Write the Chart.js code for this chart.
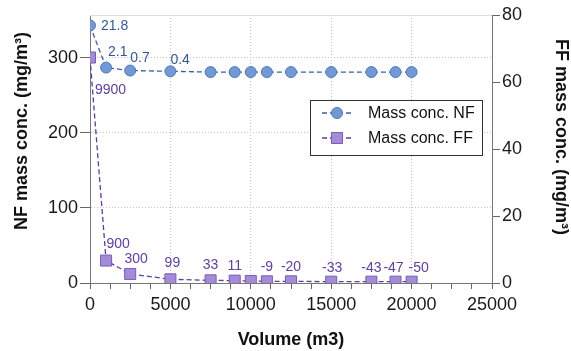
<!DOCTYPE html>
<html><head><meta charset="utf-8">
<script src="https://cdn.jsdelivr.net/npm/chart.js@4.4.1/dist/chart.umd.min.js"></script>
<style>html,body{margin:0;padding:0;background:#fff}#wrap{width:571px;height:351px;position:relative}</style>
</head><body><div id="wrap"><canvas id="c"></canvas></div>
<script>
// ---- data ----
const volumes   = [0, 1000, 2500, 5000, 7500, 9000, 10000, 11000, 12500, 15000, 17500, 19000, 20000];
const nfValues  = [343, 287, 283, 282, 281, 281, 281, 281, 281, 281, 281, 281, 281];
const ffValues  = [67.3, 6.7, 2.7, 1.1, 0.8, 0.7, 0.6, 0.5, 0.5, 0.4, 0.4, 0.4, 0.4];
const nfLabels  = ['21.8', '2.1', '0.7', '0.4', '', '', '', '', '', '', '', '', ''];
const ffLabels  = ['9900', '900', '300', '99', '33', '11', '', '-9', '-20', '-33', '-43', '-47', '-50'];
const xTickLabels   = [0, 5000, 10000, 15000, 20000, 25000];
const leftTickVals  = [0, 100, 200, 300];
const rightTickVals = [0, 20, 40, 60, 80];
const seriesNames = ['Mass conc. NF', 'Mass conc. FF'];
const axisTitles = { x: 'Volume (m3)', left: 'NF mass conc. (mg/m\u00B3)', right: 'FF mass conc. (mg/m\u00B3)' };

// ---- label placement (style) ----
const nfLabelStyle = { align: ['left','left','left','left'], dx: [11, 2, 0, 0], dy: [1, -15, -12, -11] };
const ffLabelStyle = { align: ['left','center','center','center','center','center','center','center','center','center','center','center','center'],
  dx: [5, 12, 6, 2, 0, 0, 0, 0, 0, 1, 0, -2, 7], dy: [33, -16, -15, -16, -15, -15, -15, -14, -14, -14, -14, -14, -14] };

const FONT = "'Liberation Sans', Arial, Helvetica, sans-serif";
Chart.defaults.font.family = FONT;
Chart.defaults.color = '#1a1a1a';

const nfColor = { line: '#3b5fa6', fill: '#7099d6', border: '#4f79bd', text: '#33579f' };
const ffColor = { line: '#5a3d9e', fill: '#a38bd8', border: '#7a5cc0', text: '#5e3fa6' };

const pointLabelPlugin = {
  id: 'pointLabels',
  afterDatasetsDraw(chart) {
    const ctx = chart.ctx;
    chart.data.datasets.forEach((ds, di) => {
      const meta = chart.getDatasetMeta(di);
      const st = ds._labelStyle;
      ctx.save();
      ctx.font = '14px ' + FONT;
      ctx.fillStyle = ds._labelColor;
      ctx.textBaseline = 'middle';
      meta.data.forEach((pt, i) => {
        const t = ds._labels[i];
        if (!t) return;
        ctx.textAlign = st.align[i] || 'center';
        ctx.fillText(t, pt.x + (st.dx[i] || 0), pt.y + (st.dy[i] || 0));
      });
      ctx.restore();
    });
  }
};

const decorPlugin = {
  id: 'decor',
  afterDraw(chart) {
    const ctx = chart.ctx, a = chart.chartArea;
    ctx.save();
    // top frame line
    ctx.strokeStyle = '#dedede'; ctx.lineWidth = 1;
    ctx.beginPath(); ctx.moveTo(a.left, a.top + 0.5); ctx.lineTo(a.right, a.top + 0.5); ctx.stroke();
    // vertical axis titles
    ctx.fillStyle = '#111';
    ctx.font = 'bold 18px ' + FONT;
    ctx.textAlign = 'center'; ctx.textBaseline = 'middle';
    ctx.save(); ctx.translate(22, 131); ctx.rotate(-Math.PI / 2); ctx.fillText(axisTitles.left, 0, 0); ctx.restore();
    ctx.save(); ctx.translate(561, 137); ctx.rotate(Math.PI / 2); ctx.fillText(axisTitles.right, 0, 0); ctx.restore();
    // legend
    const lx = 310.5, ly = 100.5, lw = 172, lh = 55;
    ctx.fillStyle = '#fff'; ctx.fillRect(lx, ly, lw, lh);
    ctx.strokeStyle = '#333'; ctx.lineWidth = 1; ctx.strokeRect(lx, ly, lw, lh);
    chart.data.datasets.forEach((ds, i) => {
      const y = 113 + i * 25;
      ctx.save();
      ctx.strokeStyle = ds.borderColor; ctx.lineWidth = 1.3; ctx.setLineDash([5, 3]);
      ctx.beginPath(); ctx.moveTo(322, y); ctx.lineTo(353, y); ctx.stroke();
      ctx.setLineDash([]);
      ctx.fillStyle = ds.pointBackgroundColor; ctx.strokeStyle = ds.pointBorderColor; ctx.lineWidth = 1;
      Chart.helpers.drawPoint(ctx, { pointStyle: ds.pointStyle, radius: ds.pointRadius, borderWidth: 1, rotation: 0 }, 337, y);
      ctx.restore();
      ctx.fillStyle = '#111'; ctx.font = '16px ' + FONT; ctx.textAlign = 'left'; ctx.textBaseline = 'middle';
      ctx.fillText(ds.label, 368, y + 1);
    });
    ctx.restore();
  }
};

const gridGray = '#c4c4c4';
const transparent = 'rgba(0,0,0,0)';

new Chart(document.getElementById('c'), {
  type: 'line',
  data: {
    datasets: [
      { label: seriesNames[0], yAxisID: 'y',
        data: volumes.map((v, i) => ({ x: v, y: nfValues[i] })),
        borderColor: nfColor.line, borderWidth: 1.3, borderDash: [5, 3], fill: false, tension: 0,
        pointStyle: 'circle', pointRadius: 5.5, pointBackgroundColor: nfColor.fill, pointBorderColor: nfColor.border, pointBorderWidth: 1,
        _labels: nfLabels, _labelColor: nfColor.text, _labelStyle: nfLabelStyle },
      { label: seriesNames[1], yAxisID: 'y1',
        data: volumes.map((v, i) => ({ x: v, y: ffValues[i] })),
        borderColor: ffColor.line, borderWidth: 1.3, borderDash: [5, 3], fill: false, tension: 0,
        pointStyle: 'rect', pointRadius: 7.8, pointBackgroundColor: ffColor.fill, pointBorderColor: ffColor.border, pointBorderWidth: 1,
        _labels: ffLabels, _labelColor: ffColor.text, _labelStyle: ffLabelStyle }
    ]
  },
  options: {
    responsive: true, maintainAspectRatio: false, animation: false,
    layout: { padding: { top: 15, left: 0, right: 0, bottom: 0 } },
    plugins: { legend: { display: false }, tooltip: { enabled: false } },
    scales: {
      x: {
        type: 'linear', min: 0, max: 25000,
        afterBuildTicks: s => { const t = []; for (let v = 0; v <= 25000; v += 1250) t.push({ value: v }); s.ticks = t; },
        afterFit: s => { s.height = 68; },
        ticks: { autoSkip: false, maxRotation: 0, minRotation: 0, padding: 5, color: '#1a1a1a', font: { size: 18 },
          callback: v => xTickLabels.includes(v) ? String(v) : '' },
        grid: { color: c => (c.tick && c.tick.value > 0 && c.tick.value < 25000 && c.tick.value % 5000 === 0) ? gridGray : transparent,
          tickColor: '#666', tickLength: 6, lineWidth: 1 },
        border: { display: true, color: '#777', width: 1, dash: [1, 2] },
        title: { display: true, text: axisTitles.x, color: '#111', font: { size: 18, weight: 'bold' }, padding: { top: 0, bottom: 0 } }
      },
      y: {
        position: 'left', min: 0, max: 357,
        afterBuildTicks: s => { s.ticks = leftTickVals.map(v => ({ value: v })); },
        afterFit: s => { s.width = 90; },
        ticks: { padding: 2, color: '#1a1a1a', font: { size: 18 } },
        grid: { color: c => (c.tick && c.tick.value > 0) ? gridGray : transparent, tickColor: '#666', tickLength: 10, lineWidth: 1 },
        border: { display: true, color: '#777', width: 1, dash: [1, 2] }
      },
      y1: {
        position: 'right', min: 0, max: 80,
        afterBuildTicks: s => { s.ticks = rightTickVals.map(v => ({ value: v })); },
        afterFit: s => { s.width = 79; },
        ticks: { padding: 2, color: '#1a1a1a', font: { size: 18 } },
        grid: { drawOnChartArea: false, color: '#666', tickColor: '#666', tickLength: 8 },
        border: { display: true, color: '#777', width: 1 }
      }
    }
  },
  plugins: [pointLabelPlugin, decorPlugin]
});
</script>
</body></html>
